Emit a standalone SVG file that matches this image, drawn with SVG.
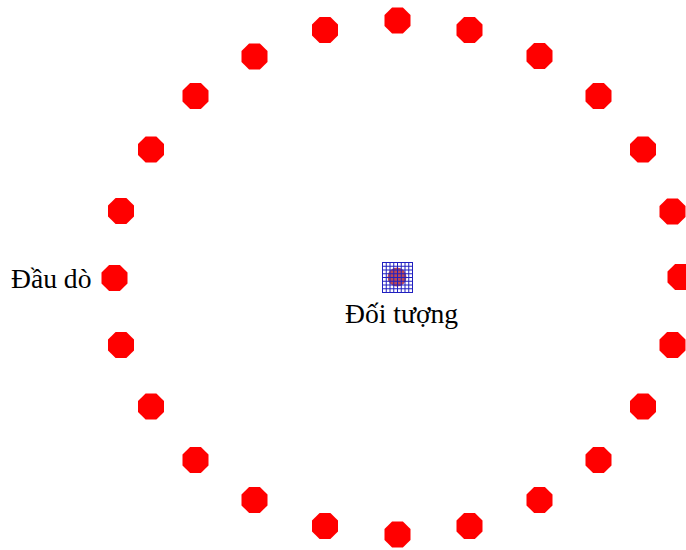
<svg xmlns="http://www.w3.org/2000/svg" xmlns:xlink="http://www.w3.org/1999/xlink" width="686" height="550" viewBox="0 0 686 550">
<style>
.probe{fill:#ff0000}
.lbl{font-family:"Liberation Serif","Times New Roman",serif;font-size:27.6px;fill:#000}
.grid{stroke:#2020c0;stroke-width:1;fill:none}
</style>
<defs>
<polygon id="oct" class="probe" points="-5.4,-13 5.4,-13 13,-5.4 13,5.4 5.4,13 -5.4,13 -13,5.4 -13,-5.4"/>
</defs>
<rect width="686" height="550" fill="#fff"/>
<g id="probes">
<use xlink:href="#oct" x="397.5" y="20.5"/>
<use xlink:href="#oct" x="469.5" y="30"/>
<use xlink:href="#oct" x="539.5" y="56"/>
<use xlink:href="#oct" x="598.5" y="96"/>
<use xlink:href="#oct" x="643" y="149.5"/>
<use xlink:href="#oct" x="672.5" y="211.5"/>
<use xlink:href="#oct" x="680.5" y="277"/>
<use xlink:href="#oct" x="672.5" y="345"/>
<use xlink:href="#oct" x="643" y="406.5"/>
<use xlink:href="#oct" x="598.5" y="460"/>
<use xlink:href="#oct" x="539.5" y="500"/>
<use xlink:href="#oct" x="469.5" y="526"/>
<use xlink:href="#oct" x="397.5" y="534.5"/>
<use xlink:href="#oct" x="325" y="526"/>
<use xlink:href="#oct" x="254.5" y="500"/>
<use xlink:href="#oct" x="195.5" y="460"/>
<use xlink:href="#oct" x="151" y="406.5"/>
<use xlink:href="#oct" x="121" y="345"/>
<use xlink:href="#oct" x="114.5" y="278"/>
<use xlink:href="#oct" x="121" y="211"/>
<use xlink:href="#oct" x="151" y="149.5"/>
<use xlink:href="#oct" x="195.5" y="96"/>
<use xlink:href="#oct" x="254.5" y="56.5"/>
<use xlink:href="#oct" x="325" y="30"/>
</g>
<g id="probe-label">
<text class="lbl" x="11" y="288">Đầu dò</text>
</g>
<g id="object">
<circle cx="397" cy="277" r="9.5" fill="#b02838" opacity="0.85"/>
<rect class="grid" x="382.5" y="262.5" width="30" height="30" stroke-width="1.5"/>
<path class="grid" d="M386.25 262.5V292.5M390 262.5V292.5M393.75 262.5V292.5M397.5 262.5V292.5M401.25 262.5V292.5M405 262.5V292.5M408.75 262.5V292.5M382.5 266.25H412.5M382.5 270H412.5M382.5 273.75H412.5M382.5 277.5H412.5M382.5 281.25H412.5M382.5 285H412.5M382.5 288.75H412.5"/>
<text class="lbl" x="345" y="323">Đối tượng</text>
</g>
</svg>
